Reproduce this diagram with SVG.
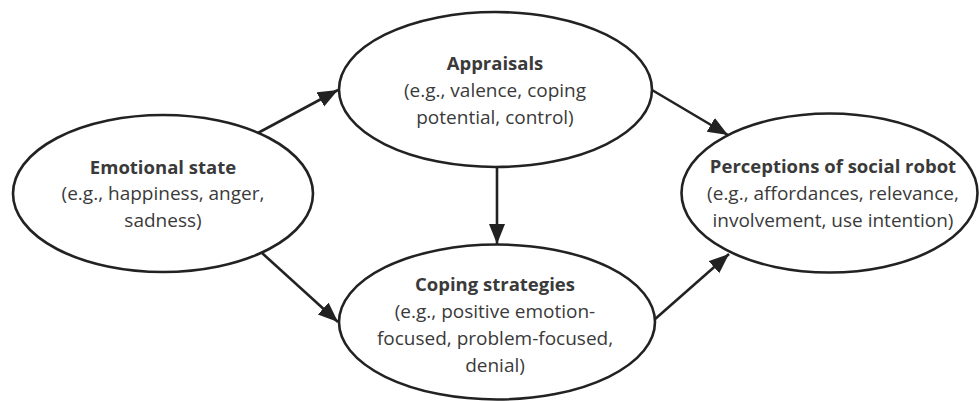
<svg xmlns="http://www.w3.org/2000/svg" width="979" height="401" viewBox="0 0 979 401">
<style>
.node ellipse{fill:#fff;stroke:#222;stroke-width:2.6}
text{font-family:"Open Sans","Noto Sans",sans-serif;font-size:19px;fill:#3a3a3a;text-anchor:middle}
.t{font-weight:bold;font-size:18.5px}
.edges line{stroke:#222;stroke-width:2.6;marker-end:url(#ah)}
</style>
<defs>
<marker id="ah" markerUnits="userSpaceOnUse" markerWidth="22" markerHeight="18" refX="20" refY="8" orient="auto">
<path d="M0,0 L20,8 L0,16 z" fill="#222"/>
</marker>
</defs>
<rect width="979" height="401" fill="#fff"/>
<g class="edges">
<line x1="256" y1="134" x2="338" y2="90"/>
<line x1="262" y1="253" x2="338" y2="322"/>
<line x1="652" y1="90" x2="728" y2="135"/>
<line x1="654" y1="320" x2="729" y2="254"/>
<line x1="497" y1="167" x2="497" y2="244"/>
</g>
<g id="emotional" class="node">
<ellipse cx="163" cy="193.5" rx="150" ry="78.5"/>
<text x="163" y="174" class="t">Emotional state</text>
<text x="163" y="200">(e.g., happiness, anger,</text>
<text x="163" y="227">sadness)</text>
</g>
<g id="appraisals" class="node">
<ellipse cx="495.5" cy="89.5" rx="156.5" ry="77.5"/>
<text x="495" y="70" class="t">Appraisals</text>
<text x="495" y="97">(e.g., valence, coping</text>
<text x="495" y="124">potential, control)</text>
</g>
<g id="coping" class="node">
<ellipse cx="497" cy="322" rx="158" ry="77.5"/>
<text x="495" y="291" class="t">Coping strategies</text>
<text x="495" y="318">(e.g., positive emotion-</text>
<text x="495" y="345">focused, problem-focused,</text>
<text x="495" y="372">denial)</text>
</g>
<g id="perceptions" class="node">
<ellipse cx="829.5" cy="193" rx="148" ry="79.5"/>
<text x="833" y="173" class="t">Perceptions of social robot</text>
<text x="833" y="200">(e.g., affordances, relevance,</text>
<text x="833" y="227">involvement, use intention)</text>
</g>
</svg>
